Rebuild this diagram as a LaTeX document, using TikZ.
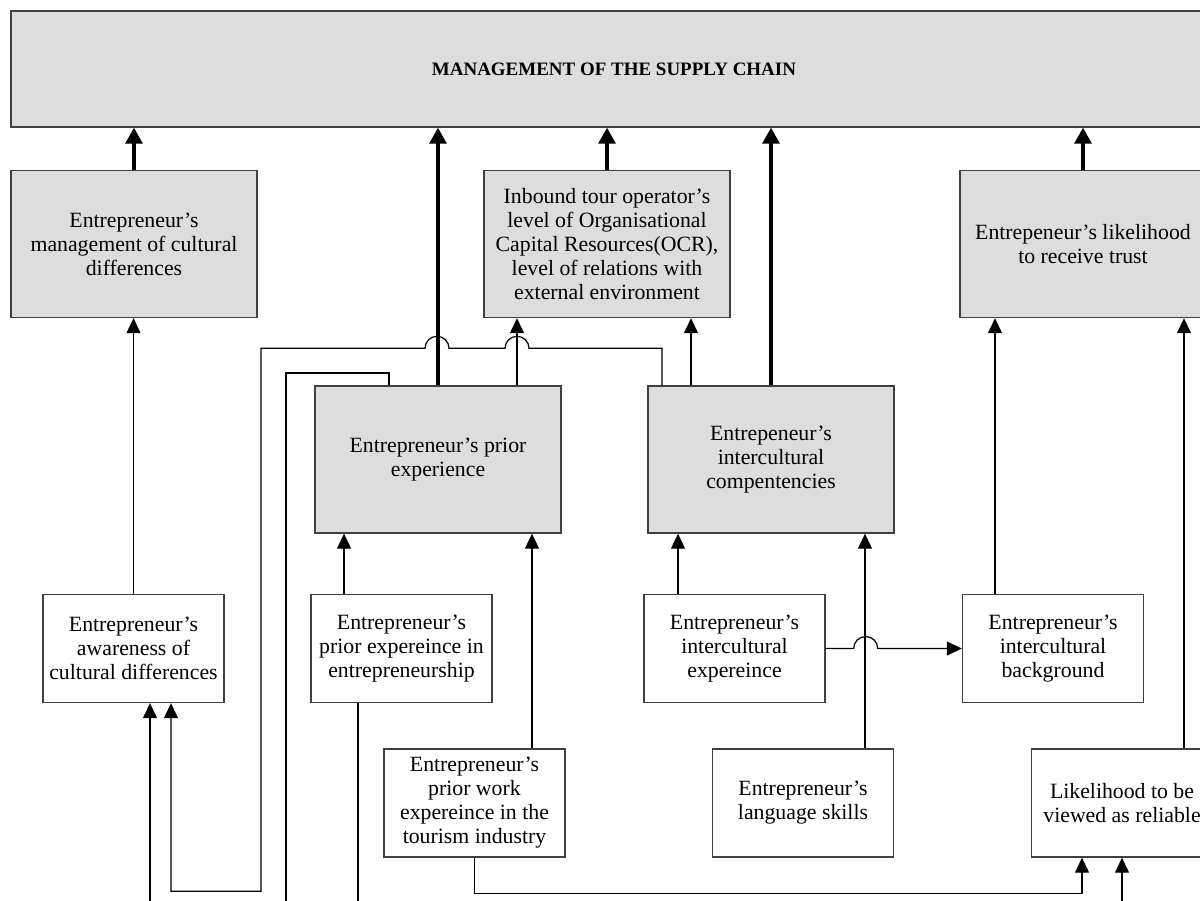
\documentclass[tikz,border=0pt]{standalone}
\usepackage{fontspec}
\setmainfont{Liberation Serif}
\usetikzlibrary{positioning, arrows.meta, calc}
\definecolor{boxgray}{RGB}{221,221,221}

\begin{document}
\begin{tikzpicture}[
  x=0.02cm, y=0.02cm,
  font=\fontsize{12.4}{13.66}\selectfont,
  >={Triangle[length=3mm, width=2.8mm]},
  box/.style={draw=black!75, line width=0.8pt, align=center, inner sep=2pt, fill=white},
  small/.style={box, minimum width=3.62cm, minimum height=2.16cm},
  factor/.style={box, fill=boxgray, minimum width=4.92cm, minimum height=2.94cm},
  flow/.style={->, line width=0.7pt},
  conn/.style={line width=0.7pt},
  strong/.style={-{Triangle[length=3.2mm, width=3.4mm]}, line width=1.8pt},
]
\useasboundingbox (0,0) rectangle (1200,-901);
\clip (0,0) rectangle (1200,-901);
% top
\node[box, fill=boxgray, minimum width=24.12cm, minimum height=2.32cm] (chain) at (614,-69)
  {\fontsize{10.8}{13}\selectfont\textbf{MANAGEMENT OF THE SUPPLY CHAIN}};
% row 1: outcomes
\node[factor] (mgmt)  at (134,-244)  {Entrepreneur’s\\management of cultural\\differences};
\node[factor] (ocr)   at (607,-244)  {Inbound tour operator’s\\level of Organisational\\Capital Resources(OCR),\\level of relations with\\external environment};
\node[factor] (trust) at (1083,-244) {Entrepeneur’s likelihood\\to receive trust};
% row 2: main factors
\node[factor] (prior) at (438,-459.5) {Entrepreneur’s prior\\experience};
\node[factor] (comp)  at (771,-459.5) {Entrepeneur’s\\intercultural\\compentencies};
% row 3
\node[small] (aware) at (133.5,-648.5) {Entrepreneur’s\\awareness of\\cultural differences};
\node[small] (entre) at (401.5,-648.5) {Entrepreneur’s\\prior expereince in\\entrepreneurship};
\node[small] (icexp) at (734.5,-648.5) {Entrepreneur’s\\intercultural\\expereince};
\node[small] (backg) at (1053,-648.5) {Entrepreneur’s\\intercultural\\background};
% row 4
\node[small] (work) at (474.5,-803) {Entrepreneur’s\\prior work\\expereince in the\\tourism industry};
\node[small] (lang) at (803,-803)   {Entrepreneur’s\\language skills};
\node[small] (reli) at (1122,-803)  {Likelihood to be\\viewed as reliable};
\coordinate (bot) at (0,-905);
% into the supply chain
\draw[strong] (mgmt.north) -- (mgmt.north |- chain.south);
\draw[strong] (ocr.north) -- (ocr.north |- chain.south);
\draw[strong] (trust.north) -- (trust.north |- chain.south);
\draw[strong] (prior.north) -- (prior.north |- chain.south);
\draw[strong] (comp.north) -- (comp.north |- chain.south);
% thin flows
\draw[flow] (aware.north) -- (aware.north |- mgmt.south);
\draw[flow] ([xshift=-1.15cm]entre.north) -- ([xshift=-1.15cm]entre.north |- prior.south);
\draw[flow] ([xshift=1.15cm]work.north) -- ([xshift=1.15cm]work.north |- prior.south);
\draw[flow] ([xshift=-1.13cm]icexp.north) -- ([xshift=-1.13cm]icexp.north |- comp.south);
\draw[flow] ([xshift=1.24cm]lang.north) -- ([xshift=1.24cm]lang.north |- comp.south);
\draw[flow] (icexp.east) -- ++(28,0) arc[start angle=180, end angle=0, radius=12] -- (backg.west);
\draw[flow] ([xshift=-1.16cm]backg.north) -- ([xshift=-1.16cm]backg.north |- trust.south);
\draw[flow] ([xshift=1.24cm]reli.north) -- ([xshift=1.24cm]reli.north |- trust.south);
\draw[flow] ([xshift=1.58cm]prior.north) -- ([xshift=1.58cm]prior.north |- ocr.south);
\draw[flow] ([xshift=-1.6cm]comp.north) -- ([xshift=-1.6cm]comp.north |- ocr.south);
\draw[flow] (work.south) -- ++(0,-36) -| ([xshift=-0.8cm]reli.south);
\draw[flow] (reli.south |- bot) -- (reli.south);
\draw[flow] ([xshift=0.33cm]aware.south |- bot) -- ([xshift=0.33cm]aware.south);
% long loop back from the competencies
\draw[flow] ([xshift=-2.18cm]comp.north) -- ++(0,37) -- ++(-133,0)
  arc[start angle=0, end angle=180, radius=12] -- ++(-56,0)
  arc[start angle=0, end angle=180, radius=12] -- ++(-164,0) -- ++(0,-543)
  -| ([xshift=0.75cm]aware.south);
\draw[conn] ([xshift=-3.04cm]prior.north |- bot) -- ++(0,532) -| ([xshift=-0.98cm]prior.north);
\draw[conn] ([xshift=-0.87cm]entre.south) -- ([xshift=-0.87cm]entre.south |- bot);
\end{tikzpicture}
\end{document}
